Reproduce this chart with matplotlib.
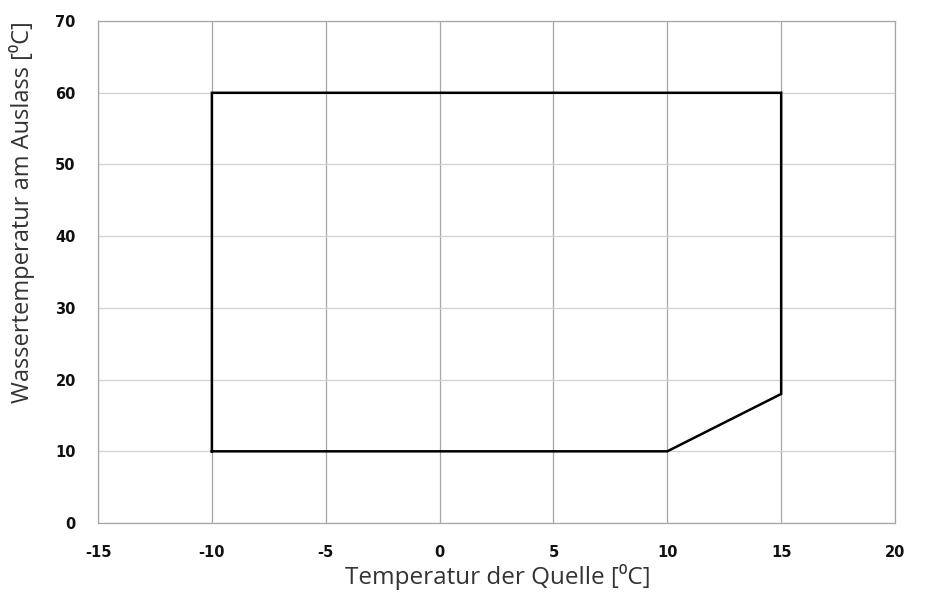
import matplotlib
matplotlib.use('Agg')
import matplotlib.pyplot as plt

plt.rcParams['axes.unicode_minus'] = False

# operating envelope
env_x = [-10, -10, 15, 15, 10, -10]
env_y = [10, 60, 60, 18, 10, 10]

x_ticks = [-15, -10, -5, 0, 5, 10, 15, 20]
y_ticks = [0, 10, 20, 30, 40, 50, 60, 70]

x_label = 'Temperatur der Quelle [\u2070C]'
y_label = 'Wassertemperatur am Auslass [\u2070C]'

fig = plt.figure(figsize=(9.3, 5.94), dpi=100)
ax = fig.add_axes([0.1054, 0.1195, 0.857, 0.845])

ax.set_xlim(-15, 20)
ax.set_ylim(0, 70)
ax.set_xticks(x_ticks)
ax.set_yticks(y_ticks)

for x in x_ticks:
    ax.axvline(x, color='#a6a6a6', lw=0.9, zorder=1)
for y in y_ticks:
    ax.axhline(y, color='#d0d0d0', lw=0.9, zorder=1)

ax.plot(env_x, env_y, color='black', lw=1.8, zorder=3, solid_joinstyle='miter')

for s in ax.spines.values():
    s.set_color('#a6a6a6')
    s.set_linewidth(0.9)

ax.tick_params(axis='x', length=0, pad=16)
ax.tick_params(axis='y', length=0, pad=16)
for lab in ax.get_xticklabels() + ax.get_yticklabels():
    lab.set_fontweight('bold')
    lab.set_fontsize(10.5)
    lab.set_family('DejaVu Sans')
    lab.set_color('#111111')

ax.set_xlabel(x_label, fontsize=17.5, family=['Open Sans', 'DejaVu Sans'], color='#333333')
ax.set_ylabel(y_label, fontsize=17, family=['Open Sans', 'DejaVu Sans'], color='#333333')
ax.xaxis.set_label_coords(0.502, -0.108)
ax.yaxis.set_label_coords(-0.095, 0.62)
ax.xaxis.label.set_va('center')
ax.yaxis.label.set_va('center')

fig.savefig('out.png', dpi=100)
